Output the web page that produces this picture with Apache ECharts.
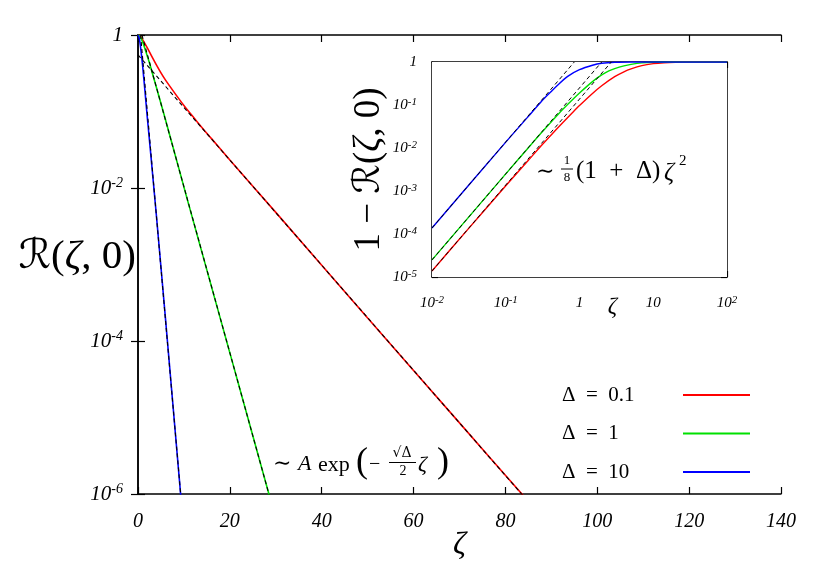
<!DOCTYPE html>
<html><head><meta charset="utf-8">
<script src="https://cdn.jsdelivr.net/npm/echarts@6/dist/echarts.min.js"></script>
<style>html,body{margin:0;padding:0;background:#fff}#c{width:830px;height:568px}</style>
</head><body><div id="c"></div>
<script>
// ---------- data ----------
const deltaLabels = ['Δ = 0.1', 'Δ = 1', 'Δ = 10'];
const curveColors = ['#ff0000', '#00e000', '#0000ff'];
const mainYTicks = [1e-6, 1e-4, 1e-2, 1];

// main panel: R(zeta,0)
const mainCurve01 = [[0,1],[0.5,0.965],[1,0.871],[2,0.684],[3,0.525],[4,0.407],[5,0.32],[6,0.257],[8,0.174],[10,0.12],[12,0.0851],[14,0.061],[16,0.0442],[20,0.0232],[30,4.8e-3],[50,2.0e-4],[70,8.5e-6],[85,8e-7]];
const mainCurve1  = [[0,1],[0.5,0.944],[1,0.813],[1.5,0.667],[2,0.535],[2.5,0.43],[3,0.336],[4,0.207],[5,0.127],[6,0.0775],[8,0.0283],[11,6.2e-3],[20,7.0e-5],[29,7.8e-7]];
const mainCurve10 = [[0,1],[0.25,0.92],[0.5,0.74],[0.75,0.55],[1,0.4],[1.5,0.19],[2,0.087],[2.6,0.036],[4,4.4e-3],[6,1.9e-4],[9.4,8.2e-7]];
// main panel asymptotes  ~ A exp(-sqrt(D)/2 zeta)
const mainAsym01 = [[0,0.55],[85,7.9e-7]];
const mainAsym1  = [[0.86,1],[29,7.8e-7]];
const mainAsym10 = [[0.57,1],[9.4,8.4e-7]];

// inset: 1 - R(zeta,0)
const insetCurve01 = [[0.01,1.38e-5],[0.03,1.23e-4],[0.1,1.32e-3],[0.2,5.05e-3],[0.3,0.0111],[0.45,0.0236],[0.6,0.0397],[0.8,0.0662],[1,0.0973],[1.5,0.186],[2,0.281],[3,0.456],[4,0.59],[5,0.69],[7,0.822],[10,0.914],[14,0.964],[20,0.989],[30,0.998],[50,1],[100,1]];
const insetCurve1  = [[0.01,2.5e-5],[0.1,2.5e-3],[0.2,9.9e-3],[0.3,0.022],[0.5,0.058],[0.7,0.105],[1,0.19],[1.5,0.35],[2,0.5],[2.5,0.62],[3,0.7],[4,0.81],[5,0.88],[7,0.955],[10,0.99],[20,1],[100,1]];
const insetCurve10 = [[0.01,1.38e-4],[0.1,0.0137],[0.2,0.053],[0.3,0.1175],[0.4,0.195],[0.5,0.285],[0.7,0.468],[1,0.661],[1.5,0.841],[2,0.933],[3,0.986],[5,1],[10,1],[100,1]];
// inset asymptotes ~ (1+D) zeta^2 / 8
const insetAsym01 = [[0.01,1.38e-5],[2.7,1]];
const insetAsym1  = [[0.01,2.5e-5],[2,1]];
const insetAsym10 = [[0.01,1.38e-4],[0.85,1]];

// ---------- chart ----------
const serif = "'Liberation Serif', 'DejaVu Serif', serif";
const black = '#000';

function powLabel(v) {
  const e = Math.round(Math.log10(v));
  if (e === 0) return '{b|1}';
  if (e === 1) return '{b|10}';
  return '{b|10}{s|' + e + '}';
}
function richFor(size, sup) {
  return {
    b: { fontSize: size, fontStyle: 'italic', fontFamily: serif, color: black, lineHeight: size + 2 },
    s: { fontSize: sup, fontStyle: 'italic', fontFamily: serif, color: black, verticalAlign: 'top', lineHeight: size + 2 }
  };
}
const lineAx = { show: true, lineStyle: { color: black, width: 1.5 } };

const chart = echarts.init(document.getElementById('c'), null, { renderer: 'canvas' });

const option = {
  animation: false,
  backgroundColor: '#fff',
  grid: [
    { left: 138, right: 49, top: 35, bottom: 74, containLabel: false, outerBoundsMode: 'none' },
    { left: 432, right: 103, top: 62, bottom: 291, containLabel: false, outerBoundsMode: 'none',
      show: true, backgroundColor: '#fff', borderWidth: 0, z: 3 }
  ],
  xAxis: [
    { type: 'value', gridIndex: 0, min: 0, max: 140, interval: 20, position: 'bottom',
      axisLine: lineAx, splitLine: { show: false },
      axisTick: { inside: true, length: 7, lineStyle: { color: black, width: 1.2 } },
      axisLabel: { margin: 18, showMinLabel: true, showMaxLabel: true, fontSize: 20, fontStyle: 'italic', fontFamily: serif, color: black },
      name: 'ζ', nameLocation: 'middle', nameGap: 36, nameMoveOverlap: false,
      nameTextStyle: { fontSize: 32, fontStyle: 'italic', fontFamily: serif, color: black } },
    { type: 'value', gridIndex: 0, min: 0, max: 140, interval: 20, position: 'top',
      axisLine: lineAx, splitLine: { show: false },
      axisTick: { inside: true, length: 7, lineStyle: { color: black, width: 1.2 } },
      axisLabel: { show: false } },
    { type: 'log', logBase: 10, gridIndex: 1, min: 0.01, max: 100, position: 'bottom',
      axisLine: lineAx, splitLine: { show: false }, minorTick: { show: false },
      axisTick: { inside: true, length: 6, lineStyle: { color: black, width: 1.2 } },
      axisLabel: { margin: 18, showMinLabel: true, showMaxLabel: true, formatter: powLabel, rich: richFor(15, 11) },
      name: 'ζ', nameLocation: 'middle', nameGap: 18, nameMoveOverlap: false,
      nameTextStyle: { fontSize: 23, fontStyle: 'italic', fontFamily: serif, color: black, padding: [0, 0, 0, 66] } },
    { type: 'log', logBase: 10, gridIndex: 1, min: 0.01, max: 100, position: 'top',
      axisLine: lineAx, splitLine: { show: false },
      axisTick: { inside: true, length: 6, lineStyle: { color: black, width: 1.2 } },
      axisLabel: { show: false } }
  ],
  yAxis: [
    { type: 'log', logBase: 10, gridIndex: 0, min: 1e-6, max: 1, position: 'left',
      axisLine: lineAx, splitLine: { show: false },
      axisTick: { inside: true, length: 7, customValues: mainYTicks, lineStyle: { color: black, width: 1.2 } },
      axisLabel: { margin: 15, customValues: mainYTicks, showMinLabel: true, showMaxLabel: true, formatter: powLabel, rich: richFor(21, 14) },
      name: '{r|ℛ}{p|(}{i|ζ}{p|, 0)}', nameLocation: 'middle', nameRotate: 0, nameGap: 2, nameMoveOverlap: false,
      nameTextStyle: { padding: [0, 0, 14, 0], rich: {
        r: { fontSize: 41, fontFamily: "'DejaVu Serif', 'DejaVu Sans', serif", fontStyle: 'italic', color: black },
        p: { fontSize: 41, fontFamily: serif, color: black },
        i: { fontSize: 41, fontFamily: serif, fontStyle: 'italic', color: black } } } },
    { type: 'log', logBase: 10, gridIndex: 0, min: 1e-6, max: 1, position: 'right',
      axisLine: lineAx, splitLine: { show: false },
      axisTick: { inside: true, length: 7, customValues: mainYTicks, lineStyle: { color: black, width: 1.2 } },
      axisLabel: { show: false } },
    { type: 'log', logBase: 10, gridIndex: 1, min: 1e-5, max: 1, position: 'left',
      axisLine: lineAx, splitLine: { show: false },
      axisTick: { inside: true, length: 6, lineStyle: { color: black, width: 1.2 } },
      axisLabel: { margin: 15, showMinLabel: true, showMaxLabel: true, formatter: powLabel, rich: richFor(15, 11) },
      name: '{p|1 − }{r|ℛ}{p|(}{i|ζ}{p|, 0)}', nameLocation: 'middle', nameGap: 44, nameMoveOverlap: false,
      nameTextStyle: { padding: [0, 0, 0, 0], rich: {
        r: { fontSize: 37, fontFamily: "'DejaVu Serif', 'DejaVu Sans', serif", fontStyle: 'italic', color: black },
        p: { fontSize: 37, fontFamily: serif, color: black },
        i: { fontSize: 37, fontFamily: serif, fontStyle: 'italic', color: black } } } },
    { type: 'log', logBase: 10, gridIndex: 1, min: 1e-5, max: 1, position: 'right',
      axisLine: lineAx, splitLine: { show: false },
      axisTick: { inside: true, length: 6, lineStyle: { color: black, width: 1.2 } },
      axisLabel: { show: false } }
  ],
  legend: {
    data: deltaLabels, orient: 'vertical', left: 557, top: 377, align: 'right',
    itemWidth: 67, itemHeight: 2, itemGap: 12.5, icon: 'rect',
    formatter: n => '{a|' + n.replace(/ /g, '\u2002') + '}',
    textStyle: { width: 116, color: black, fontSize: 21, fontFamily: serif, lineHeight: 26,
      rich: { a: { align: 'left', fontSize: 21, fontFamily: serif, color: black, lineHeight: 26 } } }
  },
  series: []
};

const mainCurves = [mainCurve01, mainCurve1, mainCurve10];
const mainAsyms = [mainAsym01, mainAsym1, mainAsym10];
const insetCurves = [insetCurve01, insetCurve1, insetCurve10];
const insetAsyms = [insetAsym01, insetAsym1, insetAsym10];

for (let k = 0; k < 3; k++) {
  option.series.push({ type: 'line', name: deltaLabels[k], xAxisIndex: 0, yAxisIndex: 0, data: mainCurves[k],
    showSymbol: false, symbol: 'none', smooth: 0.3, color: curveColors[k], lineStyle: { color: curveColors[k], width: 1.6 }, z: 2 });
}
for (let k = 0; k < 3; k++) {
  option.series.push({ type: 'line', name: 'asym main ' + k, xAxisIndex: 0, yAxisIndex: 0, data: mainAsyms[k],
    showSymbol: false, symbol: 'none', color: black, lineStyle: { color: black, width: 1.1, type: [4, 3] }, z: 3 });
}
for (let k = 0; k < 3; k++) {
  option.series.push({ type: 'line', name: deltaLabels[k], xAxisIndex: 2, yAxisIndex: 2, data: insetCurves[k],
    showSymbol: false, symbol: 'none', smooth: 0.3, color: curveColors[k], lineStyle: { color: curveColors[k], width: 1.4 }, z: 4 });
}
for (let k = 0; k < 3; k++) {
  option.series.push({ type: 'line', name: 'asym inset ' + k, xAxisIndex: 2, yAxisIndex: 2, data: insetAsyms[k],
    showSymbol: false, symbol: 'none', color: black, lineStyle: { color: black, width: 1, type: [4, 3] }, z: 5 });
}

// formula annotations
function t(text, x, y, size, opts) {
  opts = opts || {};
  return { type: 'text', x: x, y: y, z: 10, silent: true,
    style: { text: text, fill: black, font: (opts.italic ? 'italic ' : '') + size + 'px ' + (opts.family || serif),
      align: opts.align || 'left', verticalAlign: 'middle' } };
}
function bar(x1, x2, y) {
  return { type: 'line', z: 10, silent: true, shape: { x1: x1, y1: y, x2: x2, y2: y }, style: { stroke: black, lineWidth: 1 } };
}
option.graphic = [
  // ~ A exp(-sqrt(D)/2 zeta)
  t('∼', 273, 464, 22, { family: "'DejaVu Serif', serif" }),
  t('A', 298, 464, 22, { italic: true }),
  t('exp', 318, 465, 22),
  t('(', 356, 463, 36),
  t('−', 369, 465, 20),
  t('√Δ', 402, 453, 14, { align: 'center', family: "'DejaVu Serif', serif" }),
  bar(389, 416, 462.5),
  t('2', 403, 471, 14, { align: 'center' }),
  t('ζ', 418, 465, 22, { italic: true }),
  t(')', 437, 463, 36),
  // ~ 1/8 (1+D) zeta^2
  t('∼', 536, 172, 22, { family: "'DejaVu Serif', serif" }),
  t('1', 567, 161, 13, { align: 'center' }),
  bar(561, 573, 169),
  t('8', 567, 178, 13, { align: 'center' }),
  t('(1\u2002+\u2002Δ)', 576, 171, 25),
  t('ζ', 664, 173, 25, { italic: true }),
  t('2', 679, 161, 15)
];

chart.setOption(option);
</script></body></html>
